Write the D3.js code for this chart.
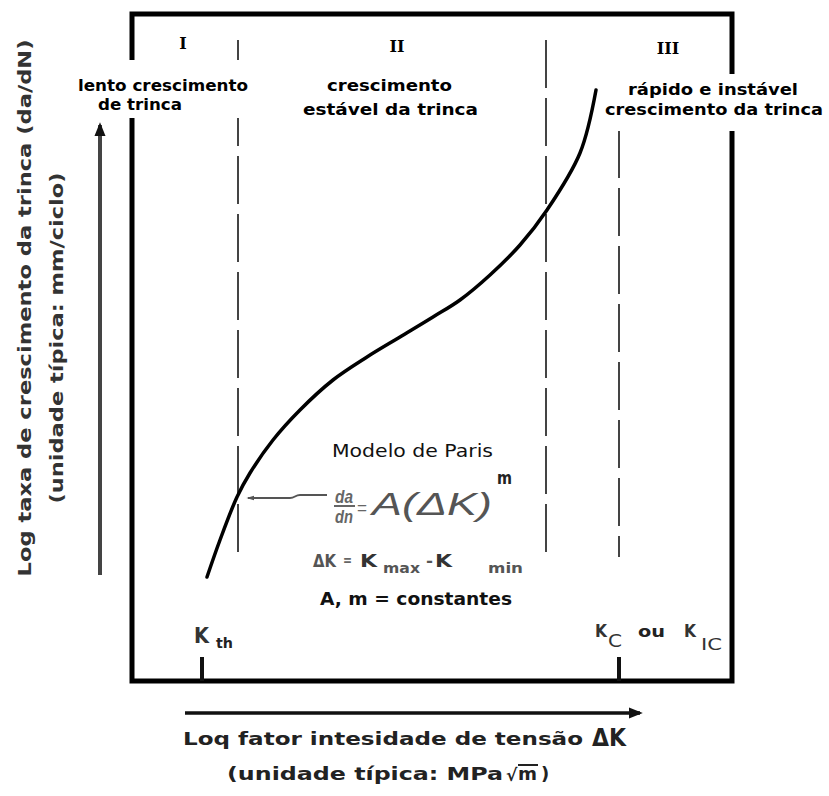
<!DOCTYPE html>
<html>
<head>
<meta charset="utf-8">
<script src="https://cdn.jsdelivr.net/npm/d3@7"></script>
<style>
  body { margin: 0; background: #fff; }
  text { font-family: "DejaVu Sans", Verdana, sans-serif; }
</style>
</head>
<body>
<div id="chart"></div>
<script>
// log ΔK (abscissa) and log da/dN (ordinate), arbitrary units
const deltaK = [1.50, 1.76, 2.10, 2.36, 2.82, 3.36, 4.02, 4.70, 5.36, 6.02, 6.56, 7.16, 7.76, 8.30, 8.96, 9.28];
const growthRate = [2.08, 2.82, 3.68, 4.16, 4.82, 5.42, 6.02, 6.48, 6.88, 7.28, 7.62, 8.12, 8.72, 9.42, 10.56, 11.82];

// region boundaries (dashed) and their vertical extent
const regionBounds = [2.12, 8.28, 9.74];
const regionTop = [12.82, 12.82, 11.02];
const regionBottom = 2.48;

// threshold / critical values marked on the ΔK axis
const kTicks = [1.40, 9.74];

const regionNames = ["I", "II", "III"];
const regionLines = [
  ["lento crescimento", "de trinca"],
  ["crescimento", "estável da trinca"],
  ["rápido e instável", "crescimento da trinca"]
];

const width = 829, height = 796;

const x = d3.scaleLinear().domain([0, 12]).range([132, 732]);
const y = d3.scaleLinear().domain([0, 13.34]).range([681, 14]);

const svg = d3.select("#chart")
  .append("svg")
  .attr("width", width)
  .attr("height", height);

const defs = svg.append("defs");
defs.append("marker")
  .attr("id", "head")
  .attr("viewBox", "0 0 10 10")
  .attr("refX", 8)
  .attr("refY", 5)
  .attr("markerUnits", "userSpaceOnUse")
  .attr("markerWidth", 14)
  .attr("markerHeight", 14)
  .attr("orient", "auto")
  .append("path")
  .attr("d", "M0,1 L10,5 L0,9 Z")
  .attr("fill", "#111");
defs.append("marker")
  .attr("id", "smallHead")
  .attr("viewBox", "0 0 10 10")
  .attr("refX", 8)
  .attr("refY", 5)
  .attr("markerUnits", "userSpaceOnUse")
  .attr("markerWidth", 8)
  .attr("markerHeight", 8)
  .attr("orient", "auto")
  .append("path")
  .attr("d", "M0,2 L10,5 L0,8 Z")
  .attr("fill", "#555");

// frame
svg.append("rect")
  .attr("x", x(0))
  .attr("y", y(13.34))
  .attr("width", x(12) - x(0))
  .attr("height", y(0) - y(13.34))
  .attr("fill", "none")
  .attr("stroke", "#000")
  .attr("stroke-width", 5);

// region boundaries
svg.selectAll(".bound")
  .data(regionBounds)
  .enter()
  .append("line")
  .attr("class", "bound")
  .attr("x1", (d) => x(d))
  .attr("x2", (d) => x(d))
  .attr("y1", (d, i) => y(regionTop[i]))
  .attr("y2", y(regionBottom))
  .attr("stroke", "#444")
  .attr("stroke-width", 2)
  .attr("stroke-dasharray", "48,10");

// ticks on the ΔK axis
svg.selectAll(".ktick")
  .data(kTicks)
  .enter()
  .append("line")
  .attr("class", "ktick")
  .attr("x1", (d) => x(d))
  .attr("x2", (d) => x(d))
  .attr("y1", y(0.48))
  .attr("y2", y(0))
  .attr("stroke", "#111")
  .attr("stroke-width", 4);

// the da/dN curve
const pts = deltaK.map((d, i) => [d, growthRate[i]]);
svg.append("path")
  .datum(pts)
  .attr("fill", "none")
  .attr("stroke", "#000")
  .attr("stroke-width", 3.5)
  .attr("stroke-linecap", "round")
  .attr("d", d3.line()
    .x((d) => x(d[0]))
    .y((d) => y(d[1]))
    .curve(d3.curveCatmullRom.alpha(0.5)));

// white boxes behind the side labels (they cut the frame)
svg.append("rect")
  .attr("x", 72).attr("y", 60).attr("width", 180).attr("height", 58)
  .attr("fill", "#fff");
svg.append("rect")
  .attr("x", 601).attr("y", 74).attr("width", 226).attr("height", 57)
  .attr("fill", "#fff");

// region numerals
const numPos = [[183, 49], [397, 52], [668, 54]];
svg.selectAll(".num")
  .data(regionNames)
  .enter()
  .append("text")
  .attr("class", "num")
  .attr("x", (d, i) => numPos[i][0])
  .attr("y", (d, i) => numPos[i][1])
  .attr("text-anchor", "middle")
  .style("font-family", "'DejaVu Serif', 'Liberation Serif', serif")
  .style("font-weight", "bold")
  .style("font-size", "16px")
  .text((d) => d);

// region descriptions: [x start, baseline, length] per line
const descPos = [
  [[78, 91, 170], [98, 110, 84]],
  [[327, 91, 125], [303, 115, 175]],
  [[628, 95, 170], [605, 115, 218]]
];
regionLines.forEach((lines, i) => {
  lines.forEach((t, j) => {
    const p = descPos[i][j];
    svg.append("text")
      .attr("x", p[0])
      .attr("y", p[1])
      .attr("textLength", p[2])
      .attr("lengthAdjust", "spacingAndGlyphs")
      .style("font-weight", "bold")
      .style("font-size", "16px")
      .attr("fill", "#000")
      .text(t);
  });
});

// axis arrows outside the frame
svg.append("line")
  .attr("x1", x(-0.64)).attr("x2", x(-0.64))
  .attr("y1", y(2.12)).attr("y2", y(11.12))
  .attr("stroke", "#444")
  .attr("stroke-width", 4)
  .attr("marker-end", "url(#head)");
svg.append("line")
  .attr("x1", x(1.06)).attr("x2", x(10.16))
  .attr("y1", y(-0.64)).attr("y2", y(-0.64))
  .attr("stroke", "#111")
  .attr("stroke-width", 3.5)
  .attr("marker-end", "url(#head)");

// y axis title
svg.append("text")
  .attr("transform", "translate(31,308) rotate(-90)")
  .attr("text-anchor", "middle")
  .attr("textLength", 537)
  .attr("lengthAdjust", "spacingAndGlyphs")
  .style("font-weight", "bold")
  .style("font-size", "18px")
  .attr("fill", "#333")
  .text("Log taxa de crescimento da trinca (da/dN)");
svg.append("text")
  .attr("transform", "translate(63,338) rotate(-90)")
  .attr("text-anchor", "middle")
  .attr("textLength", 331)
  .attr("lengthAdjust", "spacingAndGlyphs")
  .style("font-weight", "bold")
  .style("font-size", "18px")
  .attr("fill", "#333")
  .text("(unidade típica: mm/ciclo)");

// x axis title
svg.append("text")
  .attr("x", 183).attr("y", 745)
  .attr("textLength", 400)
  .attr("lengthAdjust", "spacingAndGlyphs")
  .style("font-weight", "bold")
  .style("font-size", "18px")
  .attr("fill", "#222")
  .text("Loq fator intesidade de tensão");
svg.append("text")
  .attr("x", 592).attr("y", 746)
  .attr("textLength", 34)
  .attr("lengthAdjust", "spacingAndGlyphs")
  .style("font-weight", "bold")
  .style("font-size", "25px")
  .attr("fill", "#222")
  .text("ΔK");
svg.append("text")
  .attr("x", 227).attr("y", 780)
  .attr("textLength", 276)
  .attr("lengthAdjust", "spacingAndGlyphs")
  .style("font-weight", "bold")
  .style("font-size", "18px")
  .attr("fill", "#222")
  .text("(unidade típica: MPa");
svg.append("text")
  .attr("x", 506).attr("y", 781)
  .style("font-weight", "bold")
  .style("font-size", "17px")
  .attr("fill", "#222")
  .text("√");
svg.append("line")
  .attr("x1", 518).attr("x2", 538)
  .attr("y1", 765).attr("y2", 765)
  .attr("stroke", "#222").attr("stroke-width", 2);
svg.append("text")
  .attr("x", 518).attr("y", 780)
  .attr("textLength", 19)
  .attr("lengthAdjust", "spacingAndGlyphs")
  .style("font-weight", "bold")
  .style("font-size", "18px")
  .attr("fill", "#222")
  .text("m");
svg.append("text")
  .attr("x", 541).attr("y", 780)
  .style("font-weight", "bold")
  .style("font-size", "18px")
  .attr("fill", "#222")
  .text(")");

// K labels on the ΔK axis
const label = (tx, ty, t, size, opts = {}) =>
  svg.append("text")
    .attr("x", tx).attr("y", ty)
    .style("font-weight", opts.weight || "bold")
    .style("font-size", size + "px")
    .style("font-style", opts.italic ? "italic" : "normal")
    .style("font-family", opts.family || null)
    .attr("fill", opts.fill || "#222")
    .attr("text-anchor", opts.anchor || "start")
    .attr("textLength", opts.len || null)
    .attr("lengthAdjust", opts.len ? "spacingAndGlyphs" : null)
    .text(t);

label(194, 643, "K", 22, { len: 15, fill: "#333" });
label(216, 648, "th", 14, { len: 17 });
label(595, 637, "K", 17, { len: 12, fill: "#333" });
label(608, 647, "C", 17, { len: 14, weight: "normal", fill: "#333" });
label(638, 637, "ou", 15, { len: 27 });
label(684, 637, "K", 17, { len: 12, fill: "#333" });
label(701, 650, "IC", 16, { len: 21, weight: "normal", fill: "#333" });

// Paris model annotation
const formulaFont = "'Liberation Sans', Arial, sans-serif";
label(332, 457, "Modelo de Paris", 17, { len: 161, weight: "normal", fill: "#111" });
label(344, 503, "da", 18, { len: 18, italic: true, anchor: "middle", fill: "#666", family: formulaFont });
svg.append("line")
  .attr("x1", 334).attr("x2", 355)
  .attr("y1", 506).attr("y2", 506)
  .attr("stroke", "#666").attr("stroke-width", 2);
label(344, 523, "dn", 18, { len: 18, italic: true, anchor: "middle", fill: "#666", family: formulaFont });
label(357, 514, "=", 18, { len: 10, weight: "normal", fill: "#666", family: formulaFont });
label(372, 515, "A(ΔK)", 32, { len: 120, italic: true, weight: "normal", fill: "#555", family: formulaFont });
label(497, 484, "m", 17, { len: 15, fill: "#222" });

// arrow from the formula to the curve
svg.append("path")
  .attr("d", "M327,495 L300,495 C295,495 295,498 290,498 L248,498")
  .attr("fill", "none")
  .attr("stroke", "#555")
  .attr("stroke-width", 2)
  .attr("marker-end", "url(#smallHead)");

label(313, 567, "ΔK", 18, { len: 23, fill: "#555" });
label(343, 565, "=", 14, { len: 9, fill: "#666" });
label(360, 567, "K", 18, { len: 17, fill: "#333" });
label(383, 573, "max", 14, { len: 37, fill: "#555" });
label(426, 566, "-", 16, { len: 7, fill: "#555" });
label(435, 567, "K", 18, { len: 17, fill: "#333" });
label(488, 573, "min", 14, { len: 35, fill: "#555" });

label(416, 605, "A, m = constantes", 17, { len: 192, anchor: "middle", fill: "#111" });
</script>
</body>
</html>
